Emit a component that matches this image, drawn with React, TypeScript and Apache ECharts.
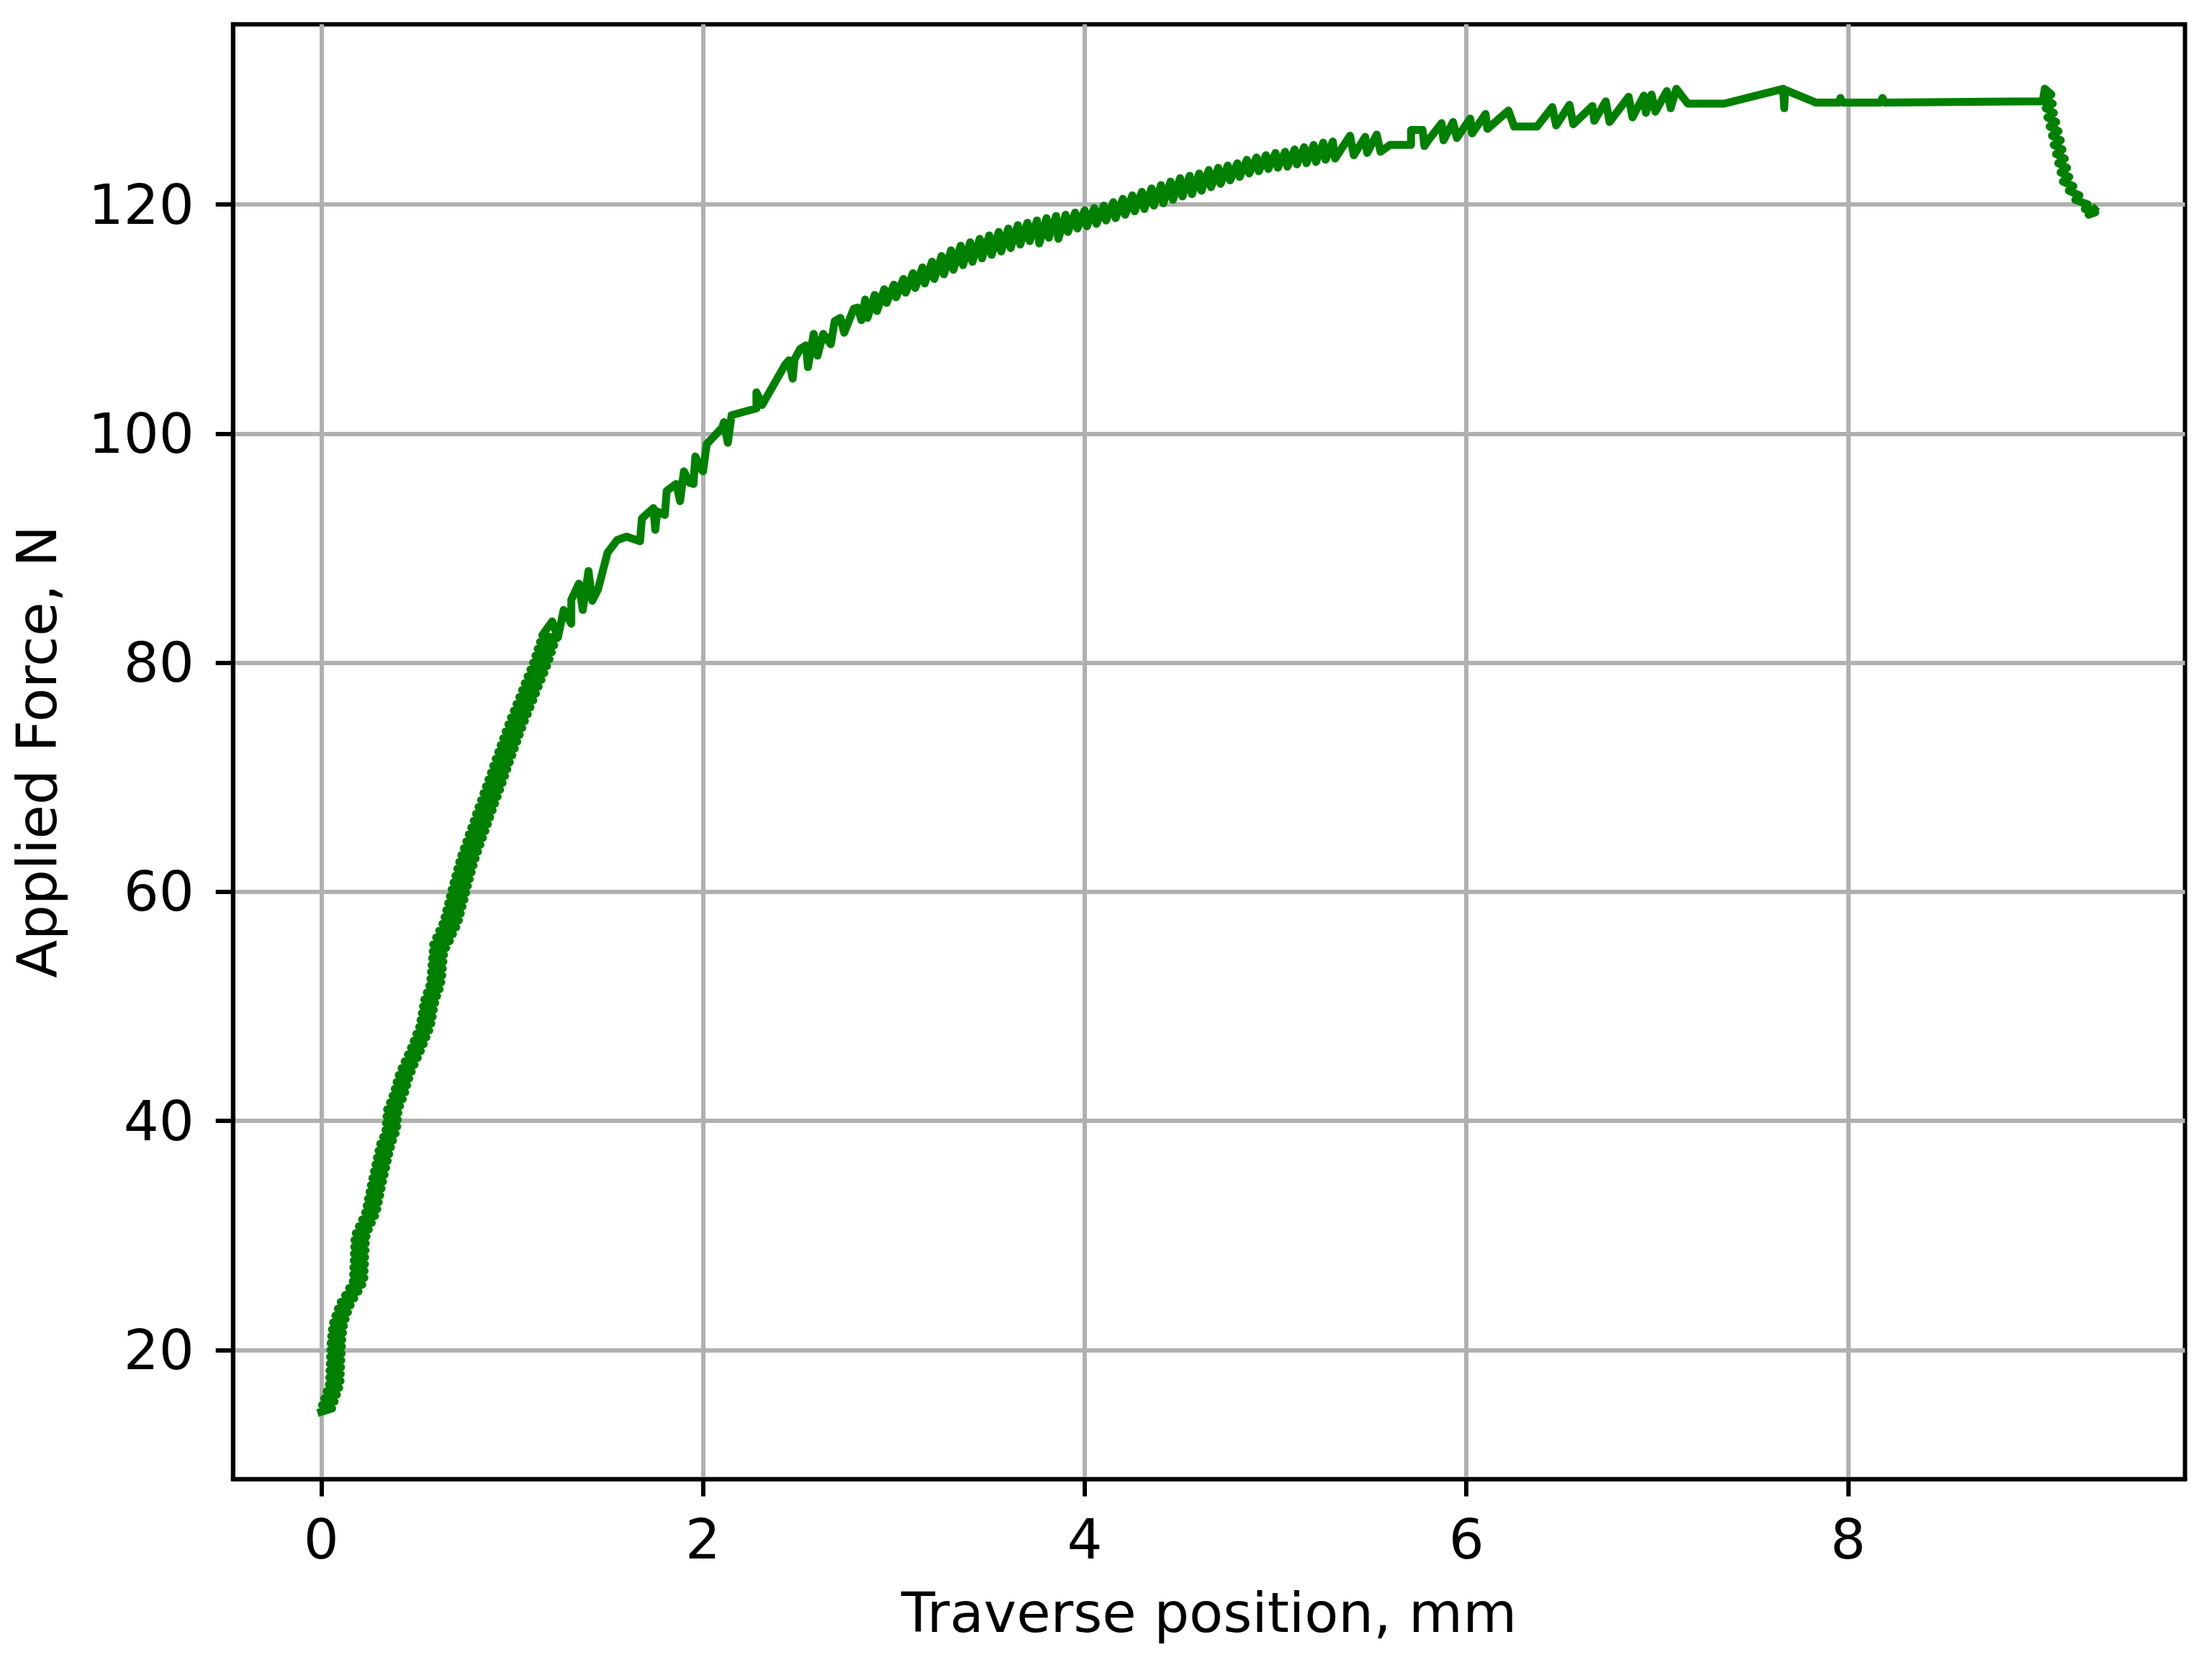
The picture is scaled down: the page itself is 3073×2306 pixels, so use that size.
import React, { useEffect, useRef } from "react";
import * as echarts from "echarts";

// Tick values
const xTicks = [0, 2, 4, 6, 8];
const yTicks = [20, 40, 60, 80, 100, 120];

// [traverse position mm, applied force N]
// Loading phase (steep, noisy band)
const loadingPhase: [number, number][] = [
  [0.00, 14.6], [0.057, 14.9], [0.004, 15.2], [0.070, 15.5], [0.016, 15.8], [0.082, 16.1], [0.028, 16.4], [0.094, 16.7],
  [0.040, 17.0], [0.101, 17.3], [0.042, 17.6], [0.102, 17.9], [0.043, 18.2], [0.104, 18.5], [0.045, 18.8], [0.105, 19.1],
  [0.046, 19.4], [0.107, 19.7], [0.048, 20.0], [0.108, 20.3], [0.049, 20.6], [0.110, 20.9], [0.052, 21.2], [0.114, 21.5],
  [0.056, 21.8], [0.119, 22.1], [0.062, 22.4], [0.128, 22.7], [0.074, 23.0], [0.140, 23.3], [0.087, 23.6], [0.154, 23.9],
  [0.102, 24.2], [0.173, 24.5], [0.125, 24.8], [0.195, 25.1], [0.146, 25.4], [0.215, 25.7], [0.165, 26.0], [0.226, 26.3],
  [0.167, 26.6], [0.227, 26.9], [0.168, 27.2], [0.229, 27.5], [0.170, 27.8], [0.230, 28.1], [0.171, 28.4], [0.232, 28.7],
  [0.173, 29.0], [0.233, 29.3], [0.174, 29.6], [0.237, 29.9], [0.181, 30.2], [0.249, 30.5], [0.197, 30.8], [0.265, 31.1],
  [0.214, 31.4], [0.282, 31.7], [0.230, 32.0], [0.294, 32.3], [0.238, 32.6], [0.301, 32.9], [0.245, 33.2], [0.309, 33.5],
  [0.253, 33.8], [0.316, 34.1], [0.260, 34.4], [0.324, 34.7], [0.268, 35.0], [0.332, 35.3], [0.276, 35.6], [0.340, 35.9],
  [0.284, 36.2], [0.348, 36.5], [0.292, 36.8], [0.356, 37.1], [0.300, 37.4], [0.365, 37.7], [0.309, 38.0], [0.376, 38.3],
  [0.324, 38.6], [0.390, 38.9], [0.336, 39.2], [0.398, 39.5], [0.339, 39.8], [0.401, 40.1], [0.342, 40.4], [0.404, 40.7],
  [0.345, 41.0], [0.413, 41.3], [0.360, 41.6], [0.427, 41.9], [0.374, 42.2], [0.440, 42.5], [0.385, 42.8], [0.450, 43.1],
  [0.395, 43.4], [0.461, 43.7], [0.406, 44.0], [0.474, 44.3], [0.421, 44.6], [0.489, 44.9], [0.437, 45.2], [0.506, 45.5],
  [0.454, 45.8], [0.522, 46.1], [0.470, 46.4], [0.537, 46.7], [0.484, 47.0], [0.551, 47.3], [0.498, 47.6], [0.566, 47.9],
  [0.513, 48.2], [0.577, 48.5], [0.520, 48.8], [0.584, 49.1], [0.527, 49.4], [0.590, 49.7], [0.533, 50.0], [0.597, 50.3],
  [0.540, 50.6], [0.607, 50.9], [0.553, 51.2], [0.620, 51.5], [0.566, 51.8], [0.629, 52.1], [0.572, 52.4], [0.634, 52.7],
  [0.575, 53.0], [0.637, 53.3], [0.578, 53.6], [0.640, 53.9], [0.581, 54.2], [0.643, 54.5], [0.584, 54.8], [0.655, 55.1],
  [0.586, 55.4], [0.674, 55.7], [0.602, 56.0], [0.690, 56.3], [0.618, 56.6], [0.707, 56.9], [0.635, 57.2], [0.721, 57.5],
  [0.646, 57.8], [0.731, 58.1], [0.655, 58.4], [0.740, 58.7], [0.665, 59.0], [0.750, 59.3], [0.674, 59.6], [0.759, 59.9],
  [0.683, 60.2], [0.768, 60.5], [0.693, 60.8], [0.778, 61.1], [0.703, 61.4], [0.788, 61.7], [0.713, 62.0], [0.798, 62.3],
  [0.723, 62.6], [0.809, 62.9], [0.734, 63.2], [0.821, 63.5], [0.747, 63.8], [0.834, 64.1], [0.760, 64.4], [0.847, 64.7],
  [0.773, 65.0], [0.860, 65.3], [0.786, 65.6], [0.873, 65.9], [0.799, 66.2], [0.885, 66.5], [0.811, 66.8], [0.898, 67.1],
  [0.824, 67.4], [0.911, 67.7], [0.837, 68.0], [0.924, 68.3], [0.850, 68.6], [0.937, 68.9], [0.863, 69.2], [0.950, 69.5],
  [0.876, 69.8], [0.963, 70.1], [0.889, 70.4], [0.975, 70.7], [0.901, 71.0], [0.988, 71.3], [0.914, 71.6], [1.001, 71.9],
  [0.927, 72.2], [1.014, 72.5], [0.940, 72.8], [1.027, 73.1], [0.953, 73.4], [1.040, 73.7], [0.966, 74.0], [1.053, 74.3],
  [0.980, 74.6], [1.067, 74.9], [0.994, 75.2], [1.082, 75.5], [1.009, 75.8], [1.096, 76.1], [1.023, 76.4], [1.111, 76.7],
  [1.038, 77.0], [1.125, 77.3], [1.052, 77.6], [1.139, 77.9], [1.066, 78.2], [1.154, 78.5], [1.081, 78.8], [1.169, 79.1],
  [1.096, 79.4], [1.183, 79.7], [1.110, 80.0], [1.196, 80.3], [1.122, 80.6], [1.208, 80.9], [1.134, 81.2], [1.220, 81.5],
  [1.146, 81.8], [1.232, 82.1], [1.158, 82.4],
];

// Knee of the curve
const kneePhase: [number, number][] = [
  [1.21, 83.6], [1.24, 82.2], [1.27, 84.6], [1.31, 83.4], [1.31, 85.5], [1.35, 86.9], [1.37, 84.6], [1.40, 88.0],
  [1.42, 85.4], [1.45, 86.4], [1.50, 89.6], [1.55, 90.7], [1.60, 91.0], [1.67, 90.6], [1.68, 92.6], [1.74, 93.5],
  [1.75, 91.6], [1.76, 93.2], [1.80, 92.9], [1.81, 95.0], [1.86, 95.6], [1.88, 94.1], [1.90, 96.7], [1.93, 95.7],
  [1.95, 95.6], [1.96, 98.0], [1.99, 96.9], [2.00, 96.7], [2.02, 99.1], [2.10, 100.5], [2.11, 101.0], [2.13, 99.2],
  [2.15, 101.6], [2.28, 102.2], [2.28, 103.6], [2.31, 102.5], [2.43, 106.0], [2.45, 106.4], [2.47, 104.8], [2.48, 106.5],
  [2.51, 107.4], [2.54, 107.7], [2.55, 105.8], [2.58, 108.7], [2.60, 106.8], [2.63, 108.7], [2.67, 107.8], [2.69, 109.8],
  [2.72, 110.1], [2.74, 108.8], [2.79, 110.9], [2.81, 111.0], [2.83, 109.9],
];

// Serrated hardening band
const hardeningPhase: [number, number][] = [
  [2.85, 111.7], [2.862, 110.1], [2.90, 112.1], [2.912, 110.7], [2.95, 112.6], [2.962, 111.4], [3.00, 113.0], [3.012, 111.9],
  [3.05, 113.5], [3.062, 112.3], [3.10, 114.0], [3.112, 112.7], [3.15, 114.5], [3.162, 113.1], [3.20, 115.0], [3.212, 113.5],
  [3.25, 115.5], [3.262, 113.9], [3.30, 116.0], [3.312, 114.3], [3.35, 116.4], [3.362, 114.7], [3.40, 116.7], [3.412, 115.0],
  [3.45, 117.0], [3.462, 115.3], [3.50, 117.3], [3.512, 115.6], [3.55, 117.6], [3.562, 115.9], [3.60, 117.9], [3.612, 116.2],
  [3.65, 118.2], [3.662, 116.5], [3.70, 118.4], [3.712, 116.8], [3.75, 118.6], [3.762, 116.6], [3.80, 118.8], [3.812, 117.1],
  [3.85, 119.0], [3.862, 117.0], [3.90, 119.1], [3.912, 117.6], [3.95, 119.3], [3.962, 117.9], [4.00, 119.5], [4.012, 118.1],
  [4.05, 119.7], [4.062, 118.3], [4.10, 119.9], [4.112, 118.6], [4.15, 120.2], [4.162, 118.8], [4.20, 120.5], [4.212, 119.1],
  [4.25, 120.8], [4.262, 119.4], [4.30, 121.1], [4.312, 119.6], [4.35, 121.4], [4.362, 119.9], [4.40, 121.7], [4.412, 120.1],
  [4.45, 122.0], [4.462, 120.4], [4.50, 122.3], [4.512, 120.7], [4.55, 122.5], [4.562, 120.9], [4.60, 122.7], [4.612, 121.2],
  [4.65, 123.0], [4.662, 121.5], [4.70, 123.2], [4.712, 121.8], [4.75, 123.4], [4.762, 122.1], [4.80, 123.6], [4.812, 122.4],
  [4.85, 123.9], [4.862, 122.7], [4.90, 124.1], [4.912, 122.9], [4.95, 124.3], [4.962, 123.1], [5.00, 124.5], [5.012, 123.2],
  [5.05, 124.6], [5.062, 123.3], [5.10, 124.8], [5.112, 123.5], [5.15, 125.0], [5.162, 123.6], [5.20, 125.2], [5.212, 123.7],
  [5.25, 125.4], [5.262, 123.9], [5.30, 125.5], [5.312, 124.0],
];

// Upper part up to the maximum
const upperPhase: [number, number][] = [
  [5.39, 126.0], [5.41, 124.3], [5.47, 125.9], [5.48, 124.5], [5.53, 126.1], [5.55, 124.6], [5.60, 125.2], [5.71, 125.2],
  [5.71, 126.5], [5.77, 126.5], [5.78, 125.1], [5.80, 125.6], [5.87, 127.1], [5.88, 125.6], [5.93, 127.2], [5.95, 125.8],
  [6.02, 127.5], [6.03, 126.2], [6.10, 127.9], [6.11, 126.6], [6.22, 128.2], [6.25, 126.8], [6.37, 126.8], [6.45, 128.5],
  [6.47, 126.9], [6.54, 128.7], [6.56, 127.0], [6.66, 128.6], [6.67, 127.3], [6.73, 129.0], [6.75, 127.2], [6.85, 129.4],
  [6.87, 127.6], [6.93, 129.5], [6.94, 128.0], [6.97, 129.6], [6.99, 128.1], [7.05, 129.9], [7.07, 128.4], [7.10, 130.1],
  [7.16, 128.8], [7.35, 128.8],
];

// Plateau
const plateauPhase: [number, number][] = [
  [7.66, 130.1], [7.665, 128.4], [7.67, 130.0], [7.83, 128.9], [7.95, 128.9], [7.96, 129.3], [7.97, 128.9], [8.17, 128.9],
  [8.18, 129.3], [8.19, 128.9], [9.02, 129.0],
];

// Final drop (noisy band)
const failurePhase: [number, number][] = [
  [9.03, 130.1], [9.065, 129.6], [9.03, 129.2], [9.072, 128.8], [9.035, 128.4], [9.078, 128.0], [9.044, 127.6], [9.09, 127.2],
  [9.056, 126.8], [9.102, 126.4], [9.068, 126.0], [9.114, 125.6], [9.077, 125.2], [9.123, 124.8], [9.089, 124.4], [9.135, 124.0],
  [9.101, 123.6], [9.147, 123.2], [9.113, 122.8], [9.159, 122.4], [9.125, 122.0], [9.18, 121.6], [9.156, 121.2], [9.212, 120.8],
  [9.19, 120.4], [9.255, 120.0], [9.24, 119.6], [9.295, 119.3], [9.26, 119.1], [9.29, 119.6],
];

const FONT = "DejaVu Sans";
const FS = 77;

export default function App() {
  const ref = useRef<HTMLDivElement>(null);
  useEffect(() => {
    if (!ref.current) return;
    const chart = echarts.init(ref.current, null, { renderer: "svg" });
    const data = [
      ...loadingPhase,
      ...kneePhase,
      ...hardeningPhase,
      ...upperPhase,
      ...plateauPhase,
      ...failurePhase,
    ];
    chart.setOption({
      animation: false,
      backgroundColor: "#ffffff",
      grid: {
        left: 323.7,
        top: 33.7,
        width: 2711.8,
        height: 2021,
        show: true,
        borderColor: "#000000",
        borderWidth: 6,
        backgroundColor: "transparent",
        containLabel: false,
        outerBoundsMode: "none",
      },
      xAxis: {
        type: "value",
        min: -0.4624,
        max: 9.765,
        name: "Traverse position, mm",
        nameLocation: "middle",
        nameGap: 147,
        nameTextStyle: { fontFamily: FONT, fontSize: FS, color: "#000" },
        axisLine: { show: true, onZero: false, lineStyle: { color: "#000", width: 6 } },
        axisTick: { show: true, inside: false, length: 24, customValues: xTicks, lineStyle: { color: "#000", width: 6 } },
        axisLabel: { show: true, customValues: xTicks, margin: 45, fontFamily: FONT, fontSize: FS, color: "#000" },
        splitLine: { show: true, lineStyle: { color: "#b0b0b0", width: 6 } },
      },
      yAxis: {
        type: "value",
        min: 8.73,
        max: 135.73,
        name: "Applied Force, N",
        nameLocation: "middle",
        nameGap: 234,
        nameRotate: 90,
        nameTextStyle: { fontFamily: FONT, fontSize: FS, color: "#000" },
        axisLine: { show: true, onZero: false, lineStyle: { color: "#000", width: 6 } },
        axisTick: { show: true, inside: false, length: 24, customValues: yTicks, lineStyle: { color: "#000", width: 6 } },
        axisLabel: { show: true, customValues: yTicks, margin: 54, fontFamily: FONT, fontSize: FS, color: "#000" },
        splitLine: { show: true, lineStyle: { color: "#b0b0b0", width: 6 } },
      },
      series: [
        {
          type: "line",
          data,
          silent: true,
          symbol: "none",
          showSymbol: false,
          clip: true,
          lineStyle: { color: "#008000", width: 11, join: "round", cap: "square" },
          z: 5,
        },
      ],
    });
    return () => chart.dispose();
  }, []);
  return (
    <div
      ref={ref}
      style={{ position: "absolute", left: 0, top: 0, width: 3073, height: 2306, background: "#fff" }}
    />
  );
}
